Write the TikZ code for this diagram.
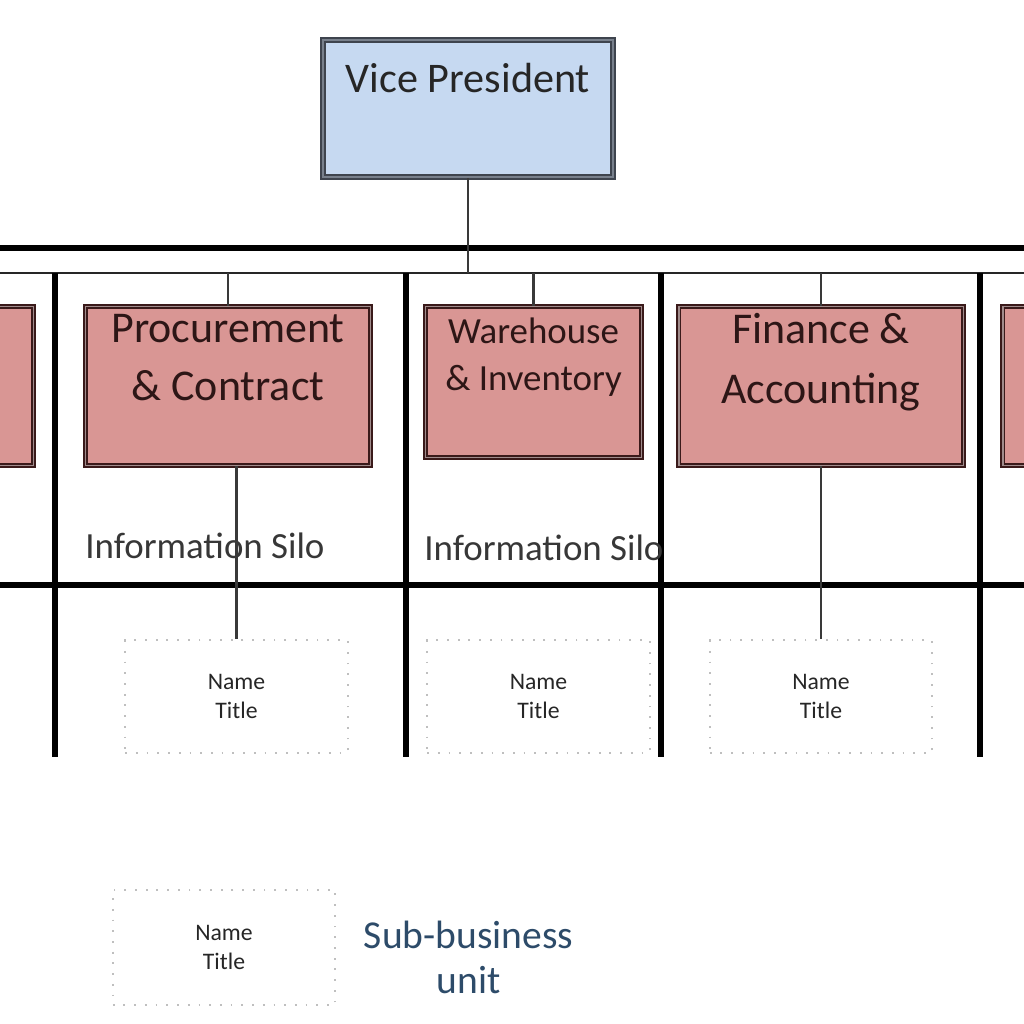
\documentclass[tikz,border=0pt]{standalone}
\usepackage{fontspec}
\setmainfont{Carlito}
\usetikzlibrary{%
    positioning
}
\definecolor{vpblue}{RGB}{198,217,241}
\definecolor{vpedge}{RGB}{62,68,78}
\definecolor{vpgrey}{RGB}{120,128,140}
\definecolor{unitpink}{RGB}{217,150,148}
\definecolor{unitedge}{RGB}{58,26,26}
\definecolor{unitgrey}{RGB}{160,140,140}
\definecolor{unittext}{RGB}{45,22,22}
\definecolor{silogrey}{RGB}{55,55,55}
\definecolor{legendblue}{RGB}{45,75,105}
\tikzset{
    vicebox/.style = {
        rectangle, draw=vpedge, double=vpgrey,
        line width=0.9pt, double distance=1.3pt,
        fill=vpblue, inner sep=0pt, text=black!85,
        font=\fontsize{24}{29}\selectfont,
    },
    unitbox/.style = {
        rectangle, draw=unitedge, double=unitgrey,
        line width=0.9pt, double distance=1.1pt,
        fill=unitpink, inner sep=0pt, align=center,
        text=unittext,
    },
    namebox/.style = {
        rectangle, draw=gray!50, line width=1pt,
        dash pattern=on 1pt off 5.1pt,
        minimum width=4.45cm, minimum height=2.25cm,
        align=center, text=black!85,
        font=\fontsize{13.5}{16.4}\selectfont,
    },
    heavy/.style = {line width=3.2pt, black},
    bus/.style = {line width=1.7pt, black!85},
    conn/.style = {line width=1.4pt, gray!45!black},
    silo/.style = {
        text=silogrey, inner sep=0pt, anchor=base,
        font=\fontsize{21}{25}\selectfont,
    },
}

\begin{document}
\begin{tikzpicture}[x=0.02cm, y=-0.02cm]
    \useasboundingbox (0,0) rectangle (1024,1024);
    \clip (0,0) rectangle (1024,1024);

    % rails
    \coordinate (topwest) at (0,248);
    \coordinate (topeast) at (1024,248);
    \coordinate (buswest) at (0,273);
    \coordinate (buseast) at (1024,273);
    \coordinate (midwest) at (0,585);
    \coordinate (mideast) at (1024,585);
    \draw[heavy] (topwest) -- (topeast);
    \draw[bus] (buswest) -- (buseast);
    \draw[heavy] (midwest) -- (mideast);
    \foreach \x in {55,406,661,980}
        \draw[heavy] (\x,273) -- (\x,757);

    \node[
        vicebox,
        minimum width = 5.8cm,
        text height = 1.04cm,
        text depth = 1.70cm
    ] (vp) at (468,108.5) {Vice President};

    \node[
        unitbox,
        minimum width = 5.7cm,
        text height = 0.71cm,
        text depth = 2.47cm
    ] (leftunit) at (-109,386) {};
    \node[
        unitbox,
        minimum width = 5.7cm,
        text height = 1.87cm,
        text depth = 1.31cm,
        font = \fontsize{25}{33}\selectfont
    ] (proc) at (228,386) {Procurement\\\& Contract};
    \node[
        unitbox,
        minimum width = 4.32cm,
        text height = 1.68cm,
        text depth = 1.34cm,
        font = \fontsize{21}{27}\selectfont
    ] (ware) at (533.5,382) {Warehouse\\\& Inventory};
    \node[
        unitbox,
        minimum width = 5.7cm,
        text height = 1.93cm,
        text depth = 1.25cm,
        font = \fontsize{25}{34}\selectfont
    ] (fin) at (821,386) {Finance \&\\Accounting};
    \node[
        unitbox,
        minimum width = 5.7cm,
        text height = 0.71cm,
        text depth = 2.47cm
    ] (rightunit) at (1145,386) {};

    \node[silo] (silo1) at (205,558) {Information Silo};
    \node[silo] (silo2) at (544,560) {Information Silo};

    \node[namebox] (procname) at (236.5,696.5) {Name\\Title};
    \node[namebox] (warename) at (538.5,696.5) {Name\\Title};
    \node[namebox] (finname) at (821,696.5) {Name\\Title};

    % connectors
    \draw[conn] (vp.south) -- (vp.south |- buswest);
    \draw[conn] (proc.north |- buswest) -- (proc.north);
    \draw[conn] (ware.north |- buswest) -- (ware.north);
    \draw[conn] (fin.north |- buswest) -- (fin.north);
    \draw[conn] (procname.north |- proc.south) -- (procname.north);
    \draw[conn] (finname.north |- fin.south) -- (finname.north);

    % legend
    \node[
        namebox,
        minimum height = 2.3cm
    ] (legend) at (224,947.5) {Name\\Title};
    \node[
        right = 0.55cm of legend,
        yshift = -0.2cm,
        inner sep = 0pt,
        align = center,
        text = legendblue,
        font = \fontsize{22.5}{25.5}\selectfont
    ] (legendtext) {Sub-business\\unit};
\end{tikzpicture}
\end{document}
